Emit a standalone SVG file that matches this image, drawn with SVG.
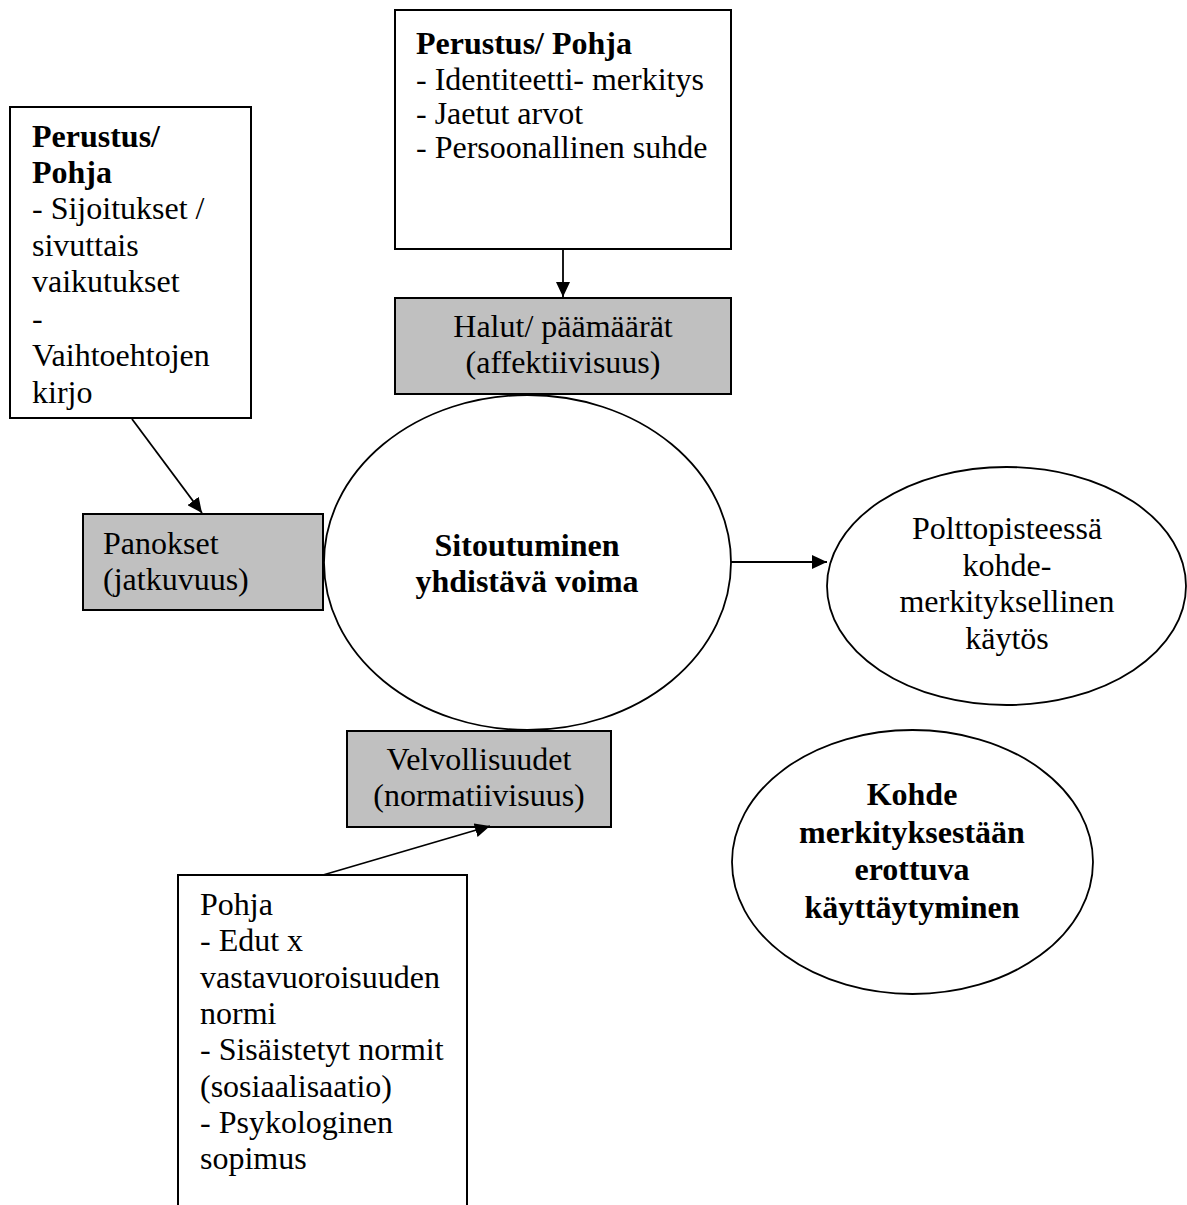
<svg xmlns="http://www.w3.org/2000/svg" width="1187" height="1205" viewBox="0 0 1187 1205">
<style>
text { font-family: "Liberation Serif", "Times New Roman", serif; font-size: 32px; fill: #000; }
.b { font-weight: bold; }
.c { text-anchor: middle; }
.box { fill: #fff; stroke: #000; stroke-width: 2; }
.gbox { fill: #c0c0c0; stroke: #000; stroke-width: 2; }
.ell { fill: #fff; stroke: #000; stroke-width: 1.8; }
.conn { stroke: #000; stroke-width: 1.8; fill: none; marker-end: url(#arrow); }
</style>
<defs>
<marker id="arrow" markerUnits="userSpaceOnUse" markerWidth="16" markerHeight="14" refX="15" refY="7" orient="auto">
<path d="M0,0 L15,7 L0,14 z" fill="#000"/>
</marker>
<clipPath id="clipLeft"><rect x="10" y="107" width="241" height="311"/></clipPath>
</defs>

<g id="node-top">
<rect class="box" x="395" y="10" width="336" height="239"/>
<text class="b" x="416" y="54">Perustus/ Pohja</text>
<text x="416" y="90">- Identiteetti- merkitys</text>
<text x="416" y="124">- Jaetut arvot</text>
<text x="416" y="158">- Persoonallinen suhde</text>
</g>

<g id="node-halut">
<rect class="gbox" x="395" y="298" width="336" height="96"/>
<text class="c" x="563" y="337">Halut/ päämäärät</text>
<text class="c" x="563" y="373">(affektiivisuus)</text>
</g>

<g id="node-left">
<rect class="box" x="10" y="107" width="241" height="311"/>
<g clip-path="url(#clipLeft)">
<text class="b" x="32" y="147">Perustus/</text>
<text class="b" x="32" y="183">Pohja</text>
<text x="32" y="219">- Sijoitukset /</text>
<text x="32" y="256">sivuttais</text>
<text x="32" y="292">vaikutukset</text>
<text x="32" y="329">-</text>
<text x="32" y="366">Vaihtoehtojen</text>
<text x="32" y="403">kirjo</text>
</g>
</g>

<g id="node-panokset">
<rect class="gbox" x="83" y="514" width="240" height="96"/>
<text x="103" y="554">Panokset</text>
<text x="103" y="590">(jatkuvuus)</text>
</g>

<g id="node-center">
<ellipse class="ell" cx="527.5" cy="562.5" rx="203.5" ry="167.5"/>
<text class="b c" x="527" y="556">Sitoutuminen</text>
<text class="b c" x="527" y="592">yhdistävä voima</text>
</g>

<g id="node-velvollisuudet">
<rect class="gbox" x="347" y="731" width="264" height="96"/>
<text class="c" x="479" y="770">Velvollisuudet</text>
<text class="c" x="479" y="806">(normatiivisuus)</text>
</g>

<g id="node-pohja">
<rect class="box" x="178" y="875" width="289" height="345"/>
<text x="200" y="915">Pohja</text>
<text x="200" y="951">- Edut x</text>
<text x="200" y="988">vastavuoroisuuden</text>
<text x="200" y="1024">normi</text>
<text x="200" y="1060">- Sisäistetyt normit</text>
<text x="200" y="1097">(sosiaalisaatio)</text>
<text x="200" y="1133">- Psykologinen</text>
<text x="200" y="1169">sopimus</text>
</g>

<g id="node-polttopiste">
<ellipse class="ell" cx="1006.5" cy="586" rx="179.5" ry="119"/>
<text class="c" x="1007" y="539">Polttopisteessä</text>
<text class="c" x="1007" y="576">kohde-</text>
<text class="c" x="1007" y="612">merkityksellinen</text>
<text class="c" x="1007" y="649">käytös</text>
</g>

<g id="node-kohde">
<ellipse class="ell" cx="912.5" cy="862" rx="180.5" ry="132"/>
<text class="b c" x="912" y="805">Kohde</text>
<text class="b c" x="912" y="843">merkityksestään</text>
<text class="b c" x="912" y="880">erottuva</text>
<text class="b c" x="912" y="918">käyttäytyminen</text>
</g>

<g id="connectors">
<line class="conn" x1="563" y1="249" x2="563" y2="297"/>
<line class="conn" x1="132" y1="419" x2="202" y2="513"/>
<line class="conn" x1="731" y1="562" x2="827" y2="562"/>
<line class="conn" x1="323" y1="875" x2="490" y2="826"/>
</g>
</svg>
